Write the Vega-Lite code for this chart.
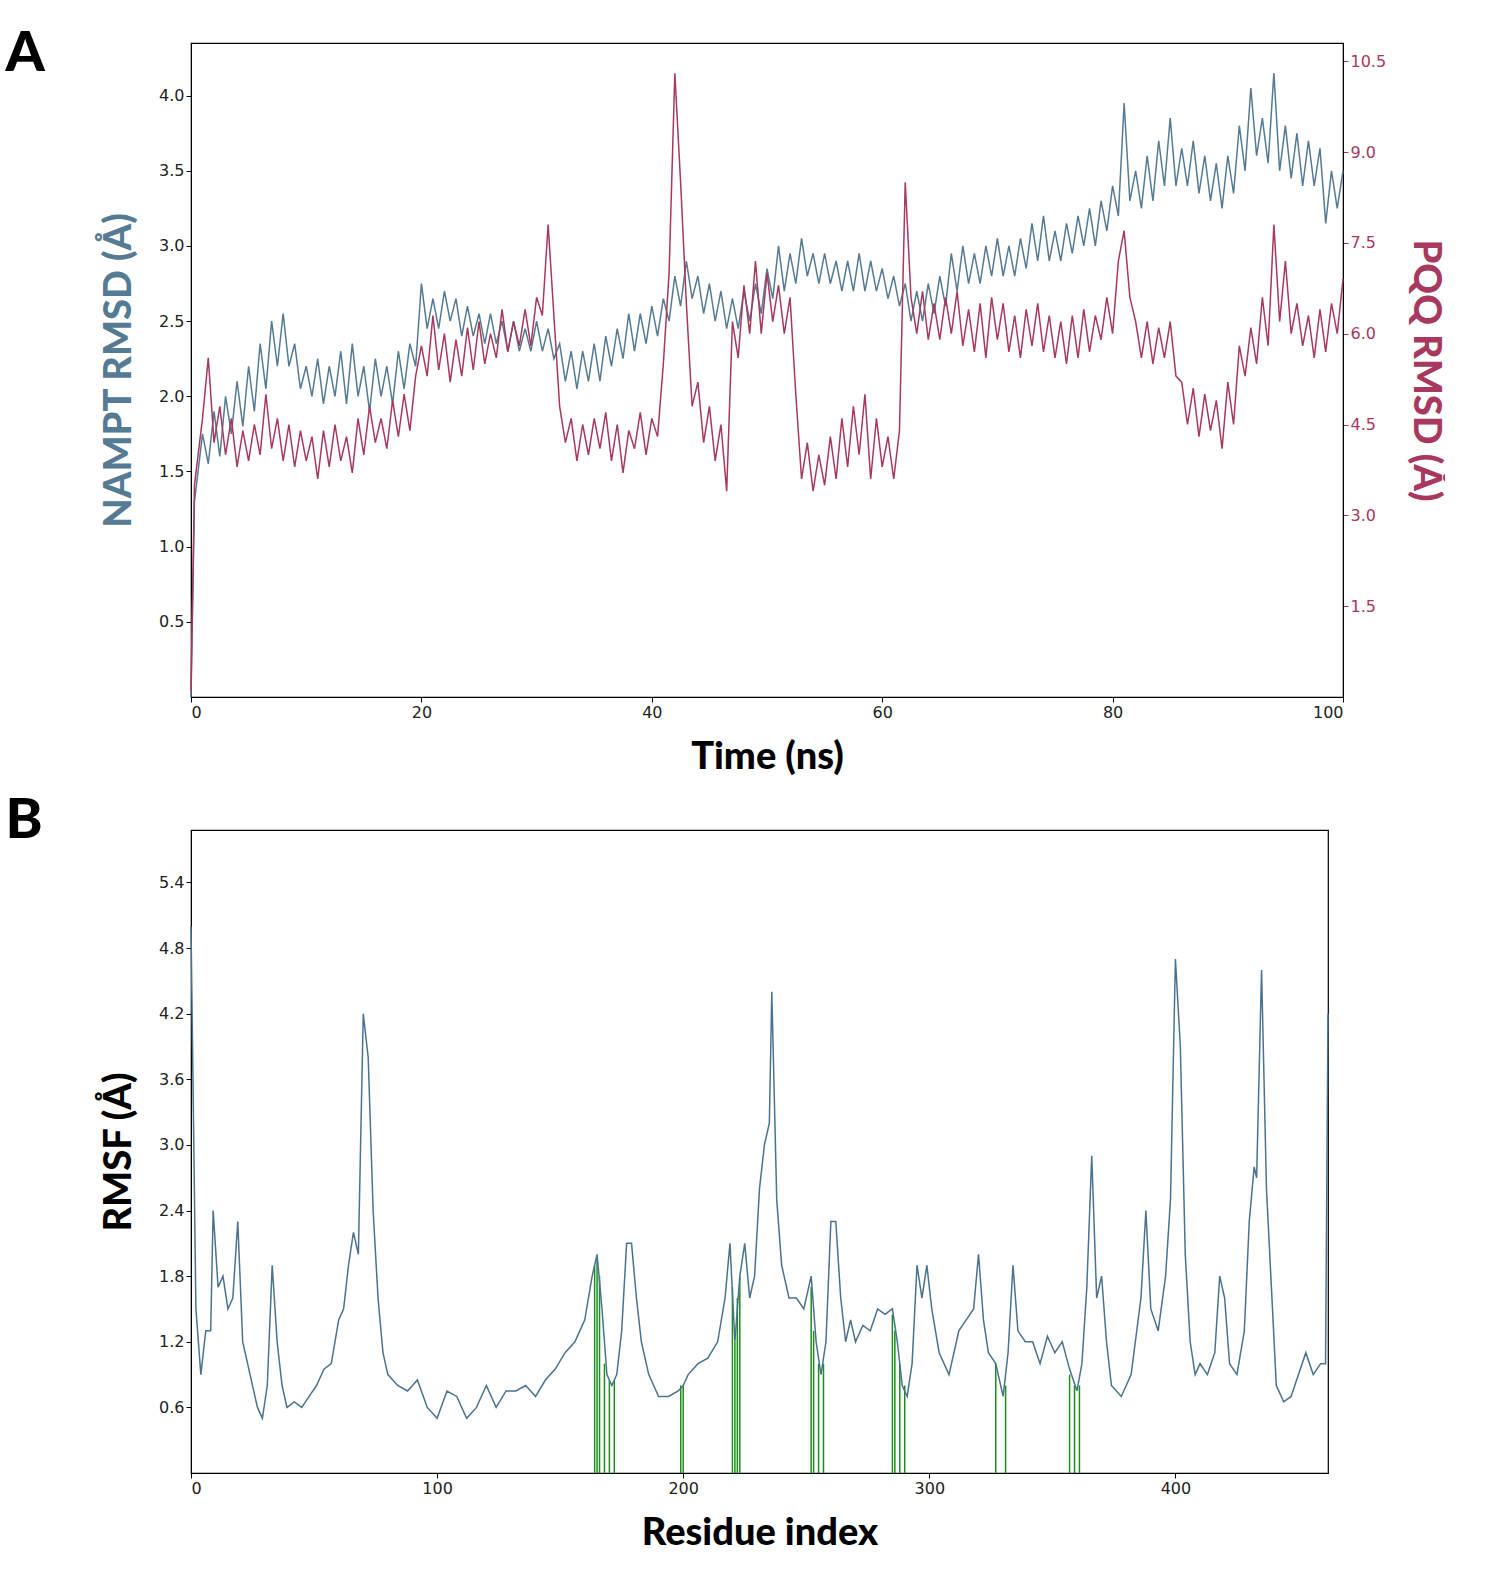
{
  "$schema": "https://vega.github.io/schema/vega-lite/v6.json",
  "background": "white",
  "padding": {"left": 4, "top": 25, "right": 0, "bottom": 5},
  "spacing": 15,
  "config": {
    "view": {"stroke": "black", "strokeWidth": 1.2},
    "axis": {"grid": false, "domainColor": "black", "tickColor": "black", "labelFontSize": 16, "labelFont": "DejaVu Sans", "labelColor": "#222", "titleFont": "Lato", "titleFontWeight": 900, "titleFontSize": 38, "titleColor": "black"},
    "title": {"fontSize": 56, "fontWeight": 900, "font": "Lato", "anchor": "start", "color": "black"}
  },
  "datasets": {
    "nampt": [
      {"t":0,"v":0.0},{"t":0.3,"v":1.3},{"t":1,"v":1.75},{"t":1.5,"v":1.55},{"t":2,"v":1.9},{"t":2.5,"v":1.6},{"t":3,"v":2.0},{"t":3.5,"v":1.75},{"t":4,"v":2.1},{"t":4.5,"v":1.8},{"t":5,"v":2.2},{"t":5.5,"v":1.9},{"t":6,"v":2.35},{"t":6.5,"v":2.05},{"t":7,"v":2.5},{"t":7.5,"v":2.2},{"t":8,"v":2.55},{"t":8.5,"v":2.2},{"t":9,"v":2.35},{"t":9.5,"v":2.05},{"t":10,"v":2.2},{"t":10.5,"v":2.0},{"t":11,"v":2.25},{"t":11.5,"v":1.95},{"t":12,"v":2.2},{"t":12.5,"v":2.0},{"t":13,"v":2.3},{"t":13.5,"v":1.95},{"t":14,"v":2.35},{"t":14.5,"v":2.0},{"t":15,"v":2.2},{"t":15.5,"v":1.9},{"t":16,"v":2.25},{"t":16.5,"v":2.0},{"t":17,"v":2.2},{"t":17.5,"v":1.95},{"t":18,"v":2.3},{"t":18.5,"v":2.05},{"t":19,"v":2.35},{"t":19.5,"v":2.2},{"t":20,"v":2.75},{"t":20.5,"v":2.45},{"t":21,"v":2.65},{"t":21.5,"v":2.45},{"t":22,"v":2.7},{"t":22.5,"v":2.5},{"t":23,"v":2.65},{"t":23.5,"v":2.4},{"t":24,"v":2.6},{"t":24.5,"v":2.4},{"t":25,"v":2.55},{"t":25.5,"v":2.35},{"t":26,"v":2.55},{"t":26.5,"v":2.35},{"t":27,"v":2.5},{"t":27.5,"v":2.3},{"t":28,"v":2.5},{"t":28.5,"v":2.3},{"t":29,"v":2.45},{"t":29.5,"v":2.3},{"t":30,"v":2.5},{"t":30.5,"v":2.3},{"t":31,"v":2.45},{"t":31.5,"v":2.25},{"t":32,"v":2.35},{"t":32.5,"v":2.1},{"t":33,"v":2.3},{"t":33.5,"v":2.05},{"t":34,"v":2.3},{"t":34.5,"v":2.1},{"t":35,"v":2.35},{"t":35.5,"v":2.1},{"t":36,"v":2.4},{"t":36.5,"v":2.2},{"t":37,"v":2.45},{"t":37.5,"v":2.25},{"t":38,"v":2.55},{"t":38.5,"v":2.3},{"t":39,"v":2.55},{"t":39.5,"v":2.35},{"t":40,"v":2.6},{"t":40.5,"v":2.4},{"t":41,"v":2.65},{"t":41.5,"v":2.5},{"t":42,"v":2.8},{"t":42.5,"v":2.6},{"t":43,"v":2.9},{"t":43.5,"v":2.65},{"t":44,"v":2.8},{"t":44.5,"v":2.55},{"t":45,"v":2.75},{"t":45.5,"v":2.5},{"t":46,"v":2.7},{"t":46.5,"v":2.45},{"t":47,"v":2.65},{"t":47.5,"v":2.45},{"t":48,"v":2.7},{"t":48.5,"v":2.5},{"t":49,"v":2.75},{"t":49.5,"v":2.55},{"t":50,"v":2.85},{"t":50.5,"v":2.65},{"t":51,"v":3.0},{"t":51.5,"v":2.7},{"t":52,"v":2.95},{"t":52.5,"v":2.75},{"t":53,"v":3.05},{"t":53.5,"v":2.8},{"t":54,"v":2.95},{"t":54.5,"v":2.75},{"t":55,"v":2.95},{"t":55.5,"v":2.75},{"t":56,"v":2.9},{"t":56.5,"v":2.7},{"t":57,"v":2.9},{"t":57.5,"v":2.7},{"t":58,"v":2.95},{"t":58.5,"v":2.7},{"t":59,"v":2.9},{"t":59.5,"v":2.7},{"t":60,"v":2.85},{"t":60.5,"v":2.65},{"t":61,"v":2.8},{"t":61.5,"v":2.6},{"t":62,"v":2.75},{"t":62.5,"v":2.5},{"t":63,"v":2.7},{"t":63.5,"v":2.5},{"t":64,"v":2.75},{"t":64.5,"v":2.55},{"t":65,"v":2.8},{"t":65.5,"v":2.6},{"t":66,"v":2.95},{"t":66.5,"v":2.7},{"t":67,"v":3.0},{"t":67.5,"v":2.75},{"t":68,"v":2.95},{"t":68.5,"v":2.75},{"t":69,"v":3.0},{"t":69.5,"v":2.8},{"t":70,"v":3.05},{"t":70.5,"v":2.8},{"t":71,"v":3.0},{"t":71.5,"v":2.8},{"t":72,"v":3.05},{"t":72.5,"v":2.85},{"t":73,"v":3.15},{"t":73.5,"v":2.9},{"t":74,"v":3.2},{"t":74.5,"v":2.9},{"t":75,"v":3.1},{"t":75.5,"v":2.9},{"t":76,"v":3.15},{"t":76.5,"v":2.95},{"t":77,"v":3.2},{"t":77.5,"v":3.0},{"t":78,"v":3.25},{"t":78.5,"v":3.0},{"t":79,"v":3.3},{"t":79.5,"v":3.1},{"t":80,"v":3.4},{"t":80.5,"v":3.2},{"t":81,"v":3.95},{"t":81.5,"v":3.3},{"t":82,"v":3.5},{"t":82.5,"v":3.25},{"t":83,"v":3.6},{"t":83.5,"v":3.3},{"t":84,"v":3.7},{"t":84.5,"v":3.4},{"t":85,"v":3.85},{"t":85.5,"v":3.4},{"t":86,"v":3.65},{"t":86.5,"v":3.4},{"t":87,"v":3.7},{"t":87.5,"v":3.35},{"t":88,"v":3.6},{"t":88.5,"v":3.3},{"t":89,"v":3.55},{"t":89.5,"v":3.25},{"t":90,"v":3.6},{"t":90.5,"v":3.35},{"t":91,"v":3.8},{"t":91.5,"v":3.5},{"t":92,"v":4.05},{"t":92.5,"v":3.6},{"t":93,"v":3.85},{"t":93.5,"v":3.55},{"t":94,"v":4.15},{"t":94.5,"v":3.5},{"t":95,"v":3.8},{"t":95.5,"v":3.45},{"t":96,"v":3.75},{"t":96.5,"v":3.4},{"t":97,"v":3.7},{"t":97.5,"v":3.4},{"t":98,"v":3.65},{"t":98.5,"v":3.15},{"t":99,"v":3.5},{"t":99.5,"v":3.25},{"t":100,"v":3.5}
    ],
    "pqq": [
      {"t":0,"v":0.1},{"t":0.3,"v":3.5},{"t":1,"v":4.6},{"t":1.5,"v":5.6},{"t":2,"v":4.2},{"t":2.5,"v":4.8},{"t":3,"v":4.0},{"t":3.5,"v":4.6},{"t":4,"v":3.8},{"t":4.5,"v":4.4},{"t":5,"v":3.9},{"t":5.5,"v":4.5},{"t":6,"v":4.0},{"t":6.5,"v":5.0},{"t":7,"v":4.1},{"t":7.5,"v":4.6},{"t":8,"v":3.9},{"t":8.5,"v":4.5},{"t":9,"v":3.8},{"t":9.5,"v":4.4},{"t":10,"v":3.9},{"t":10.5,"v":4.3},{"t":11,"v":3.6},{"t":11.5,"v":4.4},{"t":12,"v":3.8},{"t":12.5,"v":4.5},{"t":13,"v":3.9},{"t":13.5,"v":4.3},{"t":14,"v":3.7},{"t":14.5,"v":4.6},{"t":15,"v":4.0},{"t":15.5,"v":4.8},{"t":16,"v":4.2},{"t":16.5,"v":4.6},{"t":17,"v":4.1},{"t":17.5,"v":4.9},{"t":18,"v":4.3},{"t":18.5,"v":5.0},{"t":19,"v":4.4},{"t":19.5,"v":5.3},{"t":20,"v":5.8},{"t":20.5,"v":5.3},{"t":21,"v":6.3},{"t":21.5,"v":5.4},{"t":22,"v":6.0},{"t":22.5,"v":5.2},{"t":23,"v":5.9},{"t":23.5,"v":5.3},{"t":24,"v":6.1},{"t":24.5,"v":5.4},{"t":25,"v":6.2},{"t":25.5,"v":5.5},{"t":26,"v":6.0},{"t":26.5,"v":5.6},{"t":27,"v":6.4},{"t":27.5,"v":5.7},{"t":28,"v":6.2},{"t":28.5,"v":5.8},{"t":29,"v":6.4},{"t":29.5,"v":5.8},{"t":30,"v":6.6},{"t":30.5,"v":6.3},{"t":31,"v":7.8},{"t":31.5,"v":6.3},{"t":32,"v":4.8},{"t":32.5,"v":4.2},{"t":33,"v":4.6},{"t":33.5,"v":3.9},{"t":34,"v":4.5},{"t":34.5,"v":4.0},{"t":35,"v":4.6},{"t":35.5,"v":4.1},{"t":36,"v":4.7},{"t":36.5,"v":3.9},{"t":37,"v":4.5},{"t":37.5,"v":3.7},{"t":38,"v":4.4},{"t":38.5,"v":4.1},{"t":39,"v":4.7},{"t":39.5,"v":4.0},{"t":40,"v":4.6},{"t":40.5,"v":4.3},{"t":41,"v":5.5},{"t":41.5,"v":7.0},{"t":42,"v":10.3},{"t":42.5,"v":8.5},{"t":43,"v":6.5},{"t":43.5,"v":4.8},{"t":44,"v":5.2},{"t":44.5,"v":4.2},{"t":45,"v":4.8},{"t":45.5,"v":3.9},{"t":46,"v":4.5},{"t":46.5,"v":3.4},{"t":47,"v":6.2},{"t":47.5,"v":5.6},{"t":48,"v":6.8},{"t":48.5,"v":6.0},{"t":49,"v":7.2},{"t":49.5,"v":6.0},{"t":50,"v":7.0},{"t":50.5,"v":6.2},{"t":51,"v":6.8},{"t":51.5,"v":6.0},{"t":52,"v":6.6},{"t":52.5,"v":5.0},{"t":53,"v":3.6},{"t":53.5,"v":4.2},{"t":54,"v":3.4},{"t":54.5,"v":4.0},{"t":55,"v":3.5},{"t":55.5,"v":4.3},{"t":56,"v":3.6},{"t":56.5,"v":4.6},{"t":57,"v":3.8},{"t":57.5,"v":4.8},{"t":58,"v":4.0},{"t":58.5,"v":5.0},{"t":59,"v":3.6},{"t":59.5,"v":4.6},{"t":60,"v":3.8},{"t":60.5,"v":4.3},{"t":61,"v":3.6},{"t":61.5,"v":4.4},{"t":62,"v":8.5},{"t":62.5,"v":6.6},{"t":63,"v":6.0},{"t":63.5,"v":6.7},{"t":64,"v":5.9},{"t":64.5,"v":6.5},{"t":65,"v":5.9},{"t":65.5,"v":6.6},{"t":66,"v":6.0},{"t":66.5,"v":6.7},{"t":67,"v":5.8},{"t":67.5,"v":6.4},{"t":68,"v":5.7},{"t":68.5,"v":6.5},{"t":69,"v":5.6},{"t":69.5,"v":6.6},{"t":70,"v":5.9},{"t":70.5,"v":6.5},{"t":71,"v":5.7},{"t":71.5,"v":6.3},{"t":72,"v":5.6},{"t":72.5,"v":6.4},{"t":73,"v":5.8},{"t":73.5,"v":6.5},{"t":74,"v":5.7},{"t":74.5,"v":6.3},{"t":75,"v":5.6},{"t":75.5,"v":6.2},{"t":76,"v":5.5},{"t":76.5,"v":6.3},{"t":77,"v":5.6},{"t":77.5,"v":6.4},{"t":78,"v":5.7},{"t":78.5,"v":6.3},{"t":79,"v":5.9},{"t":79.5,"v":6.6},{"t":80,"v":6.0},{"t":80.5,"v":7.2},{"t":81,"v":7.7},{"t":81.5,"v":6.6},{"t":82,"v":6.2},{"t":82.5,"v":5.6},{"t":83,"v":6.2},{"t":83.5,"v":5.5},{"t":84,"v":6.1},{"t":84.5,"v":5.6},{"t":85,"v":6.2},{"t":85.5,"v":5.3},{"t":86,"v":5.2},{"t":86.5,"v":4.5},{"t":87,"v":5.1},{"t":87.5,"v":4.3},{"t":88,"v":5.0},{"t":88.5,"v":4.4},{"t":89,"v":4.9},{"t":89.5,"v":4.1},{"t":90,"v":5.2},{"t":90.5,"v":4.5},{"t":91,"v":5.8},{"t":91.5,"v":5.3},{"t":92,"v":6.1},{"t":92.5,"v":5.5},{"t":93,"v":6.6},{"t":93.5,"v":5.8},{"t":94,"v":7.8},{"t":94.5,"v":6.2},{"t":95,"v":7.2},{"t":95.5,"v":6.0},{"t":96,"v":6.5},{"t":96.5,"v":5.8},{"t":97,"v":6.3},{"t":97.5,"v":5.6},{"t":98,"v":6.4},{"t":98.5,"v":5.7},{"t":99,"v":6.5},{"t":99.5,"v":6.0},{"t":100,"v":6.9}
    ],
    "rmsf": [
      {"r":0,"v":5.0},{"r":2,"v":1.5},{"r":4,"v":0.9},{"r":6,"v":1.3},{"r":8,"v":1.3},{"r":9,"v":2.4},{"r":11,"v":1.7},{"r":13,"v":1.8},{"r":15,"v":1.5},{"r":17,"v":1.6},{"r":19,"v":2.3},{"r":21,"v":1.2},{"r":24,"v":0.9},{"r":27,"v":0.6},{"r":29,"v":0.5},{"r":31,"v":0.8},{"r":33,"v":1.9},{"r":35,"v":1.2},{"r":37,"v":0.8},{"r":39,"v":0.6},{"r":42,"v":0.65},{"r":45,"v":0.6},{"r":48,"v":0.7},{"r":51,"v":0.8},{"r":54,"v":0.95},{"r":57,"v":1.0},{"r":60,"v":1.4},{"r":62,"v":1.5},{"r":64,"v":1.9},{"r":66,"v":2.2},{"r":68,"v":2.0},{"r":70,"v":4.2},{"r":72,"v":3.8},{"r":74,"v":2.4},{"r":76,"v":1.6},{"r":78,"v":1.1},{"r":80,"v":0.9},{"r":84,"v":0.8},{"r":88,"v":0.75},{"r":92,"v":0.85},{"r":96,"v":0.6},{"r":100,"v":0.5},{"r":104,"v":0.75},{"r":108,"v":0.7},{"r":112,"v":0.5},{"r":116,"v":0.6},{"r":120,"v":0.8},{"r":124,"v":0.6},{"r":128,"v":0.75},{"r":132,"v":0.75},{"r":136,"v":0.8},{"r":140,"v":0.7},{"r":144,"v":0.85},{"r":148,"v":0.95},{"r":152,"v":1.1},{"r":156,"v":1.2},{"r":160,"v":1.4},{"r":163,"v":1.8},{"r":165,"v":2.0},{"r":167,"v":1.5},{"r":169,"v":0.9},{"r":171,"v":0.8},{"r":173,"v":0.9},{"r":175,"v":1.3},{"r":177,"v":2.1},{"r":179,"v":2.1},{"r":181,"v":1.6},{"r":183,"v":1.2},{"r":186,"v":0.9},{"r":190,"v":0.7},{"r":194,"v":0.7},{"r":198,"v":0.75},{"r":200,"v":0.8},{"r":202,"v":0.9},{"r":206,"v":1.0},{"r":210,"v":1.05},{"r":214,"v":1.2},{"r":217,"v":1.6},{"r":219,"v":2.1},{"r":221,"v":1.2},{"r":223,"v":1.8},{"r":225,"v":2.1},{"r":227,"v":1.6},{"r":229,"v":1.8},{"r":231,"v":2.6},{"r":233,"v":3.0},{"r":235,"v":3.2},{"r":236,"v":4.4},{"r":238,"v":2.5},{"r":240,"v":1.9},{"r":243,"v":1.6},{"r":246,"v":1.6},{"r":249,"v":1.5},{"r":252,"v":1.8},{"r":254,"v":1.2},{"r":256,"v":0.9},{"r":258,"v":1.2},{"r":260,"v":2.3},{"r":262,"v":2.3},{"r":264,"v":1.6},{"r":266,"v":1.2},{"r":268,"v":1.4},{"r":270,"v":1.2},{"r":273,"v":1.35},{"r":276,"v":1.3},{"r":279,"v":1.5},{"r":282,"v":1.45},{"r":285,"v":1.5},{"r":287,"v":1.2},{"r":289,"v":0.8},{"r":291,"v":0.7},{"r":293,"v":1.0},{"r":295,"v":1.9},{"r":297,"v":1.6},{"r":299,"v":1.9},{"r":301,"v":1.5},{"r":304,"v":1.1},{"r":308,"v":0.9},{"r":312,"v":1.3},{"r":315,"v":1.4},{"r":318,"v":1.5},{"r":320,"v":2.0},{"r":322,"v":1.4},{"r":324,"v":1.1},{"r":327,"v":1.0},{"r":330,"v":0.7},{"r":332,"v":1.1},{"r":334,"v":1.9},{"r":336,"v":1.3},{"r":339,"v":1.2},{"r":342,"v":1.2},{"r":345,"v":1.0},{"r":348,"v":1.25},{"r":351,"v":1.1},{"r":354,"v":1.2},{"r":357,"v":0.95},{"r":360,"v":0.75},{"r":362,"v":1.0},{"r":364,"v":1.7},{"r":366,"v":2.9},{"r":368,"v":1.6},{"r":370,"v":1.8},{"r":372,"v":1.2},{"r":374,"v":0.8},{"r":378,"v":0.7},{"r":382,"v":0.9},{"r":386,"v":1.6},{"r":388,"v":2.4},{"r":390,"v":1.5},{"r":393,"v":1.3},{"r":396,"v":1.8},{"r":398,"v":2.5},{"r":400,"v":4.7},{"r":402,"v":3.9},{"r":404,"v":2.0},{"r":406,"v":1.2},{"r":408,"v":0.9},{"r":410,"v":1.0},{"r":413,"v":0.9},{"r":416,"v":1.1},{"r":418,"v":1.8},{"r":420,"v":1.6},{"r":422,"v":1.0},{"r":425,"v":0.9},{"r":428,"v":1.3},{"r":430,"v":2.3},{"r":432,"v":2.8},{"r":433,"v":2.7},{"r":435,"v":4.6},{"r":437,"v":2.6},{"r":439,"v":1.7},{"r":441,"v":0.8},{"r":444,"v":0.65},{"r":447,"v":0.7},{"r":450,"v":0.9},{"r":453,"v":1.1},{"r":456,"v":0.9},{"r":459,"v":1.0},{"r":461,"v":1.0},{"r":462,"v":4.2}
    ],
    "site": [
      {"r":164,"v":1.9},{"r":165,"v":1.95},{"r":166,"v":1.8},{"r":168,"v":1.0},{"r":170,"v":0.85},{"r":172,"v":0.85},{"r":199,"v":0.8},{"r":200,"v":0.8},{"r":220,"v":1.7},{"r":221,"v":1.2},{"r":222,"v":1.6},{"r":223,"v":1.8},{"r":252,"v":1.7},{"r":253,"v":1.3},{"r":255,"v":1.0},{"r":257,"v":1.0},{"r":285,"v":1.45},{"r":286,"v":1.3},{"r":288,"v":1.0},{"r":290,"v":0.8},{"r":327,"v":1.0},{"r":331,"v":0.8},{"r":357,"v":0.9},{"r":359,"v":0.8},{"r":361,"v":0.8}
    ]
  },
  "vconcat": [
    {
      "title": {"text": "A", "dx": -95, "offset": -40},
      "width": 1152,
      "height": 654,
      "layer": [
        {
          "data": {"name": "nampt"},
          "mark": {"type": "line", "color": "#557b94", "strokeWidth": 1.5},
          "encoding": {
            "x": {"field": "t", "type": "quantitative", "scale": {"domain": [0, 100], "nice": false}, "axis": {"values": [0, 20, 40, 60, 80, 100], "title": "Time (ns)", "titlePadding": 18}},
            "y": {"field": "v", "type": "quantitative", "scale": {"domain": [0, 4.35], "nice": false}, "axis": {"values": [0.5, 1, 1.5, 2, 2.5, 3, 3.5, 4], "format": ".1f", "title": "NAMPT RMSD (Å)", "titleColor": "#557b94", "titlePadding": 20}}
          }
        },
        {
          "data": {"name": "pqq"},
          "mark": {"type": "line", "color": "#a8385e", "strokeWidth": 1.5},
          "encoding": {
            "x": {"field": "t", "type": "quantitative"},
            "y": {"field": "v", "type": "quantitative", "scale": {"domain": [0, 10.8], "nice": false}, "axis": {"orient": "right", "values": [1.5, 3, 4.5, 6, 7.5, 9, 10.5], "format": ".1f", "labelColor": "#a8385e", "tickColor": "#a8385e", "title": "PQQ RMSD (Å)", "titleColor": "#a8385e", "titlePadding": 20}}
          }
        }
      ],
      "resolve": {"scale": {"y": "independent"}}
    },
    {
      "title": {"text": "B", "dx": -95, "offset": -20},
      "width": 1137,
      "height": 643,
      "layer": [
        {
          "data": {"name": "site"},
          "mark": {"type": "rule", "color": "#1e8c1e", "strokeWidth": 1.5},
          "encoding": {
            "x": {"field": "r", "type": "quantitative"},
            "y": {"field": "v", "type": "quantitative"},
            "y2": {"datum": 0}
          }
        },
        {
          "data": {"name": "rmsf"},
          "mark": {"type": "line", "color": "#4a7390", "strokeWidth": 1.5},
          "encoding": {
            "x": {"field": "r", "type": "quantitative", "scale": {"domain": [0, 462], "nice": false}, "axis": {"values": [0, 100, 200, 300, 400], "title": "Residue index", "titlePadding": 18}},
            "y": {"field": "v", "type": "quantitative", "scale": {"domain": [0, 5.88], "nice": false}, "axis": {"values": [0.6, 1.2, 1.8, 2.4, 3.0, 3.6, 4.2, 4.8, 5.4], "format": ".1f", "title": "RMSF (Å)", "titlePadding": 20}}
          }
        }
      ]
    }
  ]
}
